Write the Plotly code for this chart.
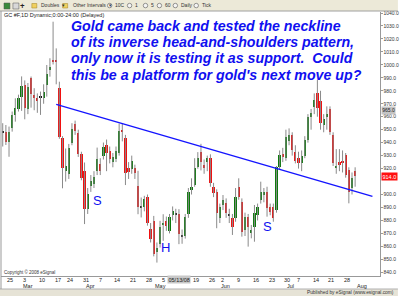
import plotly.graph_objects as go

# ---------------- data ----------------
dates = ["02-22","02-25","02-26","02-27","02-28","02-29","03-03","03-04","03-05","03-06",
         "03-07","03-10","03-11","03-12","03-13","03-14","03-17","03-18","03-19","03-20",
         "03-24","03-25","03-26","03-27","03-28","03-31","04-01","04-02","04-03","04-04",
         "04-07","04-08","04-09","04-10","04-11","04-14","04-15","04-16","04-17","04-18",
         "04-21","04-22","04-23","04-24","04-25","04-28","04-29","04-30","05-01","05-02",
         "05-05","05-06","05-07","05-08","05-09","05-12","05-13","05-14","05-15","05-16",
         "05-19","05-20","05-21","05-22","05-23","05-27","05-28","05-29","05-30","06-02",
         "06-03","06-04","06-05","06-06","06-09","06-10","06-11","06-12","06-13","06-16",
         "06-17","06-18","06-19","06-20","06-23","06-24","06-25","06-26","06-27","06-30",
         "07-01","07-02","07-03","07-07","07-08","07-09","07-10","07-11","07-14","07-15",
         "07-16","07-17","07-18","07-21","07-22","07-23","07-24","07-25","07-28","07-29",
         "07-30","07-31","08-01"]

opens = [948,947.9,940.2,951,961.3,966,975.5,984.5,966,990.1,
         976.8,974.2,975.8,974.7,984.5,996.1,1004,1003.5,982,943.3,
         918,915.6,940.1,954.7,947.8,931.1,918.3,888.7,906.7,908,
         917.8,923.5,929.9,938.1,933.7,924.7,927.3,932.4,950,943.3,
         920.2,919.6,920.2,906.7,890.8,890.5,897.7,873.3,879.7,855.3,
         861.7,876.5,879.7,872.1,884,885.5,884.8,868.3,868.1,884.8,
         903.5,907.3,921.1,933,922.8,925.3,928,906,902.2,881.6,
         891.9,893.2,884.5,881.6,881.6,906,894.5,872.6,882.9,871,
         875.2,884.2,895.8,899.6,902.2,890.6,890.6,888.1,921.4,931,
         928,941,945.9,933,928,924,930,942,960,967.7,
         978,972,954,960,965.7,945.9,921,925,926,930.5,
         918.9,905,918]
highs = [955,953.6,952.4,964,974.2,977,991.1,988,986,991,
         982,978,979.4,985,999.9,1005.1,1033.3,1012.7,987,945,
         935.5,939,955,957,950,933,924.7,905,915,918,
         936.2,928,940.1,942.4,937,932,937,954.7,955,946,
         925,930,923,918.3,897.7,899,900,878,883.5,863,
         879.7,884.8,883,885,890.8,889,888.7,873,885,905,
         912.5,928,932.7,939.1,927,930,931,909,904,893,
         899.6,897,889,885,905,912.5,897,886,885,876.5,
         891.9,893,909.9,905,906,893,893,922,934,936,
         950,951,948,938,933,934,945,962,966,978,
         988.3,980,962,968,968,948,935,935,934,932,
         921,917,921]
lows = [937,938.2,929.1,948.5,956.2,964,964.5,958,962,967,
        965,963,961.4,970,975.5,990.9,1000.3,985,943,904.8,
        910,912,938,946,929,911,877.2,885,902,905,
        915,915,927,918,924,921,925,930,941,907.3,
        912,916,912,884.8,882.3,887,876,863,852.3,847.5,
        859.1,864.3,872,870,880,878,861.7,862,866,882,
        900,906,919.9,918.6,916,918,906,898,874,878,
        888,882,878,868.8,879,896,867.5,868,859.8,866.2,
        863.6,880,893,894,882.9,884,879,886,919,925,
        926,938,930,924,920,918,928,940,950,962,
        960,950,948,950,946,922,916,918,917,913,
        893.2,900,906]
closes = [947.7,940.7,948.5,961.3,966.9,974.7,984,966.5,983,977.3,
          974.2,972.1,975.3,979.4,992.8,998.7,1002,1002.5,944.6,920.2,
          922,936.2,950.3,949.1,931.1,913.1,888.7,900.3,910.6,913.7,
          927.3,918.3,936.3,932.4,927.3,928.6,933.7,949.1,948.5,916.3,
          917.6,926,916.3,890,890.3,896.4,878.4,865.6,854,859.1,
          874.6,878,875.9,882.8,887,885.2,869.4,868,882.3,901.6,
          906,920.2,928,925.3,920.2,928,908.7,900.9,885.5,890.6,
          895.8,885.5,884.2,875.2,898.3,898.3,871.3,882.9,875.2,872.5,
          885.5,890.6,902.2,902.2,889.4,886.8,881.6,921.4,930.5,929,
          944.6,946,934.3,926,924,930,942,960,963,972.9,
          966.5,955,958,962,948.4,924.1,922,923,924,915,
          902.2,913,914]

week_dates = ["02-25","03-03","03-10","03-17","03-24","03-31","04-07","04-14","04-21","04-28",
              "05-05","05-19","05-27","06-02","06-09","06-16","06-23","06-30","07-07","07-14","07-21","07-28"]
week_labels = ["25","3","10","17","24","31","7","14","21","28","5","19","26","2","9","16","23","30","7","14","21","28"]
month_dates = ["03-03","04-01","05-01","06-02","07-01","08-01"]
month_labels = ["Mar","Apr","May","Jun","Jul","Aug"]
price_ticks = [v for v in range(840, 1041, 10) if v != 910]   # 910 is hidden under the last-price box
neck_x = ["03-18", "end"]
neck_y = [969.5, 898.5]

# ---------------- figure ----------------
n = len(dates)
idx = list(range(n))
pos = {d: i for i, d in enumerate(dates)}
pos["end"] = n + 4.5

GREEN, RED = "#0b7a0b", "#f01010"
wx, wy = [], []
for i in idx:
    hi = max(highs[i], opens[i], closes[i])
    lo = min(lows[i], opens[i], closes[i])
    wx += [i, i, None]
    wy += [lo, hi, None]

base, hgt, cols = [], [], []
for o, c in zip(opens, closes):
    lo, hi = min(o, c), max(o, c)
    if hi - lo < 0.8:
        mid = (hi + lo) / 2
        lo, hi = mid - 0.4, mid + 0.4
        cols.append("#111111")
    else:
        cols.append(GREEN if c > o else RED)
    base.append(lo)
    hgt.append(hi - lo)

fig = go.Figure()
fig.add_trace(go.Scatter(x=wx, y=wy, mode="lines", line=dict(color="#8a8a8a", width=1),
                         hoverinfo="skip", showlegend=False))
fig.add_trace(go.Bar(x=idx, y=hgt, base=base, width=0.72, marker=dict(color=cols, line=dict(width=0)),
                     showlegend=False))
fig.add_trace(go.Scatter(x=[pos[neck_x[0]], pos[neck_x[1]]], y=neck_y, mode="lines",
                         line=dict(color="#1414ff", width=1.3), showlegend=False))

L, R, T, B = 1, 382, 12, 276
W, H = 400, 296
def PX(x): return (x - L) / (R - L)
def PY(y): return (B - y) / (B - T)

ann = []
lines = ["Gold came back and tested the neckline",
         "of its inverse head-and-shoulders pattern,",
         "only now it is testing it as support.  Could",
         "this be a platform for gold's next move up?"]
for k, t in enumerate(lines):
    ann.append(dict(x=PX(69), y=PY(26 + 16.2 * k), xref="paper", yref="paper", text="<b><i>" + t + "</i></b>",
                    showarrow=False, xanchor="left", yanchor="middle",
                    font=dict(family="Liberation Sans, Arial", size=14.2, color="#1010f0")))
for (x, y, t) in [(97.7, 200, "S"), (166.7, 247, "H"), (269.3, 226, "S")]:
    ann.append(dict(x=PX(x), y=PY(y), xref="paper", yref="paper", text=t, showarrow=False,
                    xanchor="center", yanchor="middle",
                    font=dict(family="Liberation Sans, Arial", size=13, color="#1010f0")))
small = dict(family="Liberation Sans, Arial", size=5.5, color="#222222")
ann.append(dict(x=PX(2), y=PY(14.5), xref="paper", yref="paper", text="GC #F,1D Dynamic;0:00-24:00 (Delayed)",
                showarrow=False, xanchor="left", yanchor="middle", font=small))
ann.append(dict(x=PX(2), y=PY(272), xref="paper", yref="paper", text="Copyright © 2008 eSignal",
                showarrow=False, xanchor="left", yanchor="middle",
                font=dict(family="Liberation Sans, Arial", size=4.5, color="#333")))
for d, t in zip(week_dates, week_labels):
    ann.append(dict(x=pos[d] - 0.15, y=PY(279.5), xref="x", yref="paper", text=t, showarrow=False,
                    xanchor="left", yanchor="middle", font=small))
for d, t in zip(month_dates, month_labels):
    ann.append(dict(x=pos[d] - 0.15, y=PY(286), xref="x", yref="paper", text=t, showarrow=False,
                    xanchor="left", yanchor="middle", font=small))
ann.append(dict(x=pos["05-13"], y=PY(279.5), xref="x", yref="paper", text="05/13/08", showarrow=False,
                xanchor="center", yanchor="middle", bgcolor="#c8c8c8", borderpad=0.5,
                font=dict(family="Liberation Sans, Arial", size=5.5, color="#222")))
ann.append(dict(x=PX(383), y=965, xref="paper", yref="y", text="965.0", showarrow=False,
                xanchor="left", yanchor="middle", bgcolor="#c4c4c4", borderpad=0.3,
                font=dict(family="Liberation Sans, Arial", size=5, color="#222")))
ann.append(dict(x=PX(383), y=closes[-1], xref="paper", yref="y", text=f"{closes[-1]:.1f}", showarrow=False,
                xanchor="left", yanchor="middle", bgcolor="#ff1010", borderpad=0.5,
                font=dict(family="Liberation Sans, Arial", size=5.5, color="white")))
tb = dict(family="Liberation Sans, Arial", size=5, color="#333")
for x, t in [(39, "Doubles  ▾"), (71, "Other Intervals  ▾"), (114, "10C"), (134, "1"), (150, "5"),
             (164, "60"), (180, "Daily"), (201, "Tick")]:
    ann.append(dict(x=PX(x), y=PY(5.5), xref="paper", yref="paper", text=t, showarrow=False,
                    xanchor="left", yanchor="middle", font=tb))
ann.append(dict(x=PX(23), y=PY(5.5), xref="paper", yref="paper", text="<b>+</b>", showarrow=False,
                xanchor="center", yanchor="middle", font=dict(size=8, color="#222")))
ann.append(dict(x=PX(398), y=PY(292.5), xref="paper", yref="paper", text="Published by eSignal (www.esignal.com)",
                showarrow=False, xanchor="right", yanchor="middle",
                font=dict(family="Liberation Sans, Arial", size=4.8, color="#333")))

shapes = []
shapes.append(dict(type="rect", xref="paper", yref="paper", x0=PX(0), x1=PX(W), y0=PY(11), y1=PY(0),
                   fillcolor="#ece9d8", line=dict(width=0), layer="below"))
shapes.append(dict(type="line", xref="paper", yref="paper", x0=PX(0), x1=PX(W), y0=PY(11), y1=PY(11),
                   line=dict(color="#a0a0a0", width=1)))
shapes.append(dict(type="rect", xref="paper", yref="paper", x0=PX(0), x1=PX(W), y0=PY(H), y1=PY(289),
                   fillcolor="#e6e3d6", line=dict(width=0)))
shapes.append(dict(type="line", xref="paper", yref="paper", x0=PX(0), x1=PX(W), y0=PY(289), y1=PY(289),
                   line=dict(color="#b0b0b0", width=1)))
shapes.append(dict(type="line", xref="paper", yref="paper", x0=PX(1), x1=PX(1), y0=PY(289), y1=PY(11),
                   line=dict(color="#999999", width=1)))
shapes.append(dict(type="rect", xref="paper", yref="paper", x0=PX(4), x1=PX(10), y0=PY(9), y1=PY(3),
                   fillcolor="#3a8a3a", line=dict(color="#555", width=0.5)))
shapes.append(dict(type="rect", xref="paper", yref="paper", x0=PX(13), x1=PX(19), y0=PY(9), y1=PY(3),
                   fillcolor="#d8d8d8", line=dict(color="#555", width=0.5)))
for fx in (32, 63):
    shapes.append(dict(type="rect", xref="paper", yref="paper", x0=PX(fx), x1=PX(fx + 5), y0=PY(8), y1=PY(3.5),
                       fillcolor="#f0d060", line=dict(color="#a08020", width=0.5)))
for cx in (108, 128, 144, 158, 174, 195):
    shapes.append(dict(type="circle", xref="paper", yref="paper", x0=PX(cx), x1=PX(cx + 4.5), y0=PY(7.8), y1=PY(3.3),
                       fillcolor="#f4f4f4", line=dict(color="#555", width=0.6)))

fig.update_layout(
    width=W, height=H, margin=dict(l=L, r=W - R, t=T, b=H - B),
    paper_bgcolor="white", plot_bgcolor="white",
    annotations=ann, shapes=shapes, bargap=0,
    xaxis=dict(range=[-0.55, 119.9], showgrid=False, zeroline=False, showticklabels=False,
               showline=True, linecolor="#999999", linewidth=1),
    yaxis=dict(range=[837.15, 1040.77], side="right", showgrid=False, zeroline=False,
               tickvals=price_ticks, ticktext=[f"{v:.1f}" for v in price_ticks],
               tickfont=dict(family="Liberation Sans, Arial", size=5, color="#333"),
               showline=True, linecolor="#999999", linewidth=1, ticks="outside", ticklen=1.5,
               tickcolor="#999"),
)
fig.write_html("out.html")
